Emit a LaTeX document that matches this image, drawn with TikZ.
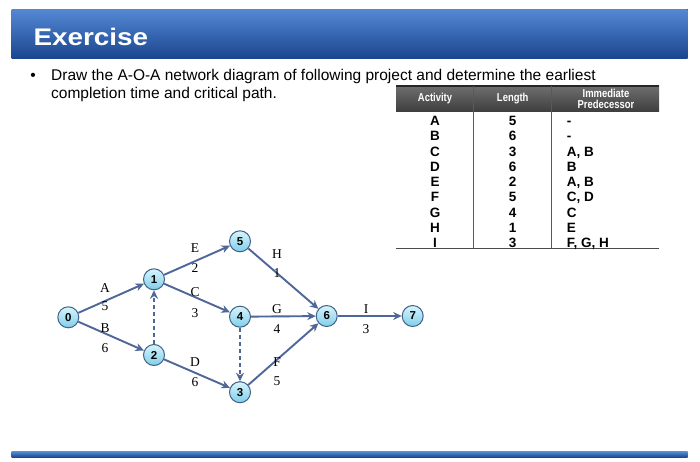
\documentclass[tikz,border=0pt]{standalone}
\usepackage{fontspec}
\setmainfont{Liberation Sans}
\newfontfamily\titlefont[FakeStretch=1.16]{Liberation Sans}
\newfontfamily\headfont[FakeStretch=0.82]{Liberation Sans}
\newfontfamily\labelfont{Liberation Serif}
\usetikzlibrary{arrows.meta}
\usetikzlibrary{matrix}
\usetikzlibrary{positioning}

\definecolor{bartop}{RGB}{84,136,212}
\definecolor{barmid}{RGB}{44,98,180}
\definecolor{barbottom}{RGB}{26,70,142}
\definecolor{hdtop}{RGB}{110,110,110}
\definecolor{hdbottom}{RGB}{62,62,62}
\definecolor{arrowblue}{RGB}{78,102,152}
\definecolor{eventtop}{RGB}{214,244,252}
\definecolor{eventbottom}{RGB}{128,206,234}
\definecolor{eventborder}{RGB}{66,98,134}

\tikzset{
  event/.style={circle, draw=eventborder, line width=1pt,
    top color=eventtop, bottom color=eventbottom,
    minimum size=21pt, inner sep=0pt,
    font=\bfseries\fontsize{11.5}{12}\selectfont},
  activity/.style={draw=arrowblue, line width=1.9pt,
    -{Stealth[length=8.5pt,width=8pt]}},
  dummy/.style={activity, dash pattern=on 4.5pt off 2.5pt},
  lbl/.style={font=\labelfont\fontsize{13.5}{14}\selectfont, inner sep=0pt},
  headtxt/.style={text=white, align=center, inner sep=0pt,
    font=\headfont\bfseries\fontsize{11.5}{11.7}\selectfont},
  bodytxt/.style={inner sep=0pt, font=\fontsize{15.5}{18}\selectfont},
}

\begin{document}
\begin{tikzpicture}[x=1pt, y=-1pt]
\useasboundingbox (0,0) rectangle (700,462);
\fill[white] (0,0) rectangle (700,462);

% title bar
\fill[top color=bartop, middle color=barmid, bottom color=barbottom]
  (11.7,9.3) rectangle (687.7,58.3);
\node[anchor=base west, inner sep=0pt, text=white,
  font=\titlefont\bfseries\fontsize{24}{28}\selectfont] (title) at (33.3,45.7) {Exercise};

% question
\node[bodytxt, anchor=base] (bullet) at (33,80.5) {•};
\node[bodytxt, anchor=base west] (line1) at (51,80.5)
  {Draw the A-O-A network diagram of following project and determine the earliest};
\node[bodytxt, anchor=base west] (line2) at (51,98.5)
  {completion time and critical path.};

% table
\fill[top color=hdtop, bottom color=hdbottom] (396,86) rectangle (659,111.7);
\draw[line width=1.2pt, black!85] (396,86) -- (659,86);
\draw[line width=0.8pt, black!65] (473.3,86) -- (473.3,248.3);
\draw[line width=0.8pt, black!65] (551.7,86) -- (551.7,248.3);
\draw[line width=1.3pt, black!70] (396,248.3) -- (659,248.3);
\node[headtxt] (hact) at (435,99) {Activity};
\node[headtxt] (hlen) at (512.7,99) {Length};
\node[headtxt] (hpre) at (606,99) {Immediate\\Predecessor};

\matrix (tbl) [matrix of nodes, matrix anchor=tbl-1-1.base,
  nodes={inner sep=0pt, anchor=base, font=\bfseries\fontsize{13.5}{14}\selectfont},
  column 3/.style={nodes={anchor=base west}},
  row sep={15.25pt,between origins},
  column sep={54pt,between origins}] at (435,125.5)
{
A &[23.7pt] 5 & - \\
B & 6 & - \\
C & 3 & A, B \\
D & 6 & B \\
E & 2 & A, B \\
F & 5 & C, D \\
G & 4 & C \\
H & 1 & E \\
I & 3 & F, G, H \\
};

% network
\node[event] (n0) at (68.3,317.3) {0};
\node[event] (n1) at (154,279.3) {1};
\node[event] (n2) at (154,355) {2};
\node[event] (n5) at (240,241.3) {5};
\node[event] (n4) at (240,316.7) {4};
\node[event] (n3) at (240,392.2) {3};
\node[event] (n6) at (326.7,316) {6};
\node[event] (n7) at (412.7,316) {7};

\draw[activity] (n0) -- (n1);
\draw[activity] (n0) -- (n2);
\draw[activity] (n1) -- (n5);
\draw[activity] (n1) -- (n4);
\draw[activity] (n2) -- (n3);
\draw[dummy] (n2) -- (n1);
\draw[dummy] (n4) -- (n3);
\draw[activity] (n5) -- (n6);
\draw[activity] (n4) -- (n6);
\draw[activity] (n3) -- (n6);
\draw[activity] (n6) -- (n7);

\foreach \act/\ax/\ay/\len/\ly in {A/105/288/5/306, B/105/328/6/348,
    E/195/248/2/268, C/195/292/3/313, D/195/362/6/382,
    H/277/254/1/273, G/277/309/4/329, F/277/362/5/381, I/366/309/3/329}
{
  \node[lbl] (act\act) at (\ax,\ay) {\act};
  \node[lbl] (len\act) at (\ax,\ly) {\len};
}

% bottom bar
\fill[top color=bartop, bottom color=barbottom] (11.7,451.7) rectangle (687.7,457.3);
\end{tikzpicture}
\end{document}
